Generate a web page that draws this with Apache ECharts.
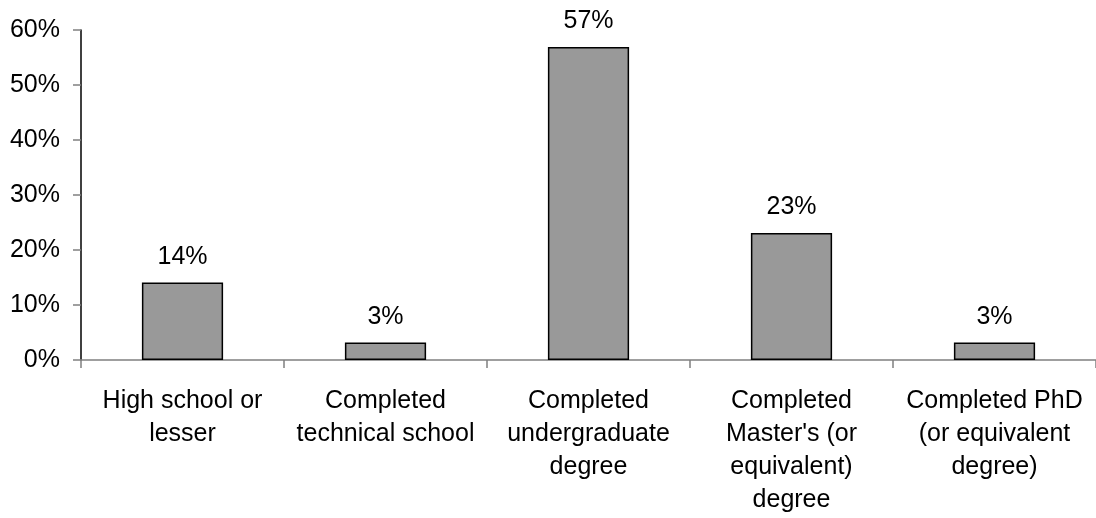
<!DOCTYPE html>
<html>
<head>
<meta charset="utf-8">
<script src="https://cdn.jsdelivr.net/npm/echarts@6/dist/echarts.min.js"></script>
<style>html,body{margin:0;padding:0;background:#fff}#c{width:1096px;height:518px}</style>
</head>
<body>
<div id="c"></div>
<script>
const categories = [
  "High school or\nlesser",
  "Completed\ntechnical school",
  "Completed\nundergraduate\ndegree",
  "Completed\nMaster's (or\nequivalent)\ndegree",
  "Completed PhD\n(or equivalent\ndegree)"
];
const values = [14.1, 3.2, 56.9, 23.1, 3.2];
const yTicks = { min: 0, max: 60, interval: 10 };

const chart = echarts.init(document.getElementById('c'), null, { renderer: 'canvas' });
const font = '"Liberation Sans", Arial, sans-serif';
chart.setOption({
  animation: false,
  backgroundColor: '#ffffff',
  grid: { left: 81, right: 0, top: 30, bottom: 158, containLabel: false },
  xAxis: {
    type: 'category',
    data: categories,
    boundaryGap: true,
    axisLine: { lineStyle: { color: '#808080', width: 1.5 } },
    axisTick: { show: true, length: 8, alignWithLabel: false, lineStyle: { color: '#808080', width: 1.5 } },
    axisLabel: { interval: 0, margin: 25, color: '#000', fontFamily: font, fontSize: 25, lineHeight: 33, align: 'center' }
  },
  yAxis: {
    type: 'value',
    min: yTicks.min, max: yTicks.max, interval: yTicks.interval,
    splitLine: { show: false },
    axisLine: { show: true, lineStyle: { color: '#000', width: 1.5 } },
    axisTick: { show: true, length: 8, lineStyle: { color: '#808080', width: 1.5 } },
    axisLabel: { margin: 21, color: '#000', fontFamily: font, fontSize: 25, formatter: '{value}%' }
  },
  series: [{
    type: 'bar',
    data: values,
    barCategoryGap: '60%',
    itemStyle: { color: '#999999', borderColor: '#000', borderWidth: 1.5 },
    label: {
      show: true, position: 'top', distance: 13,
      color: '#000', fontFamily: font, fontSize: 25,
      formatter: p => Math.round(p.value) + '%'
    }
  }]
});
</script>
</body>
</html>
